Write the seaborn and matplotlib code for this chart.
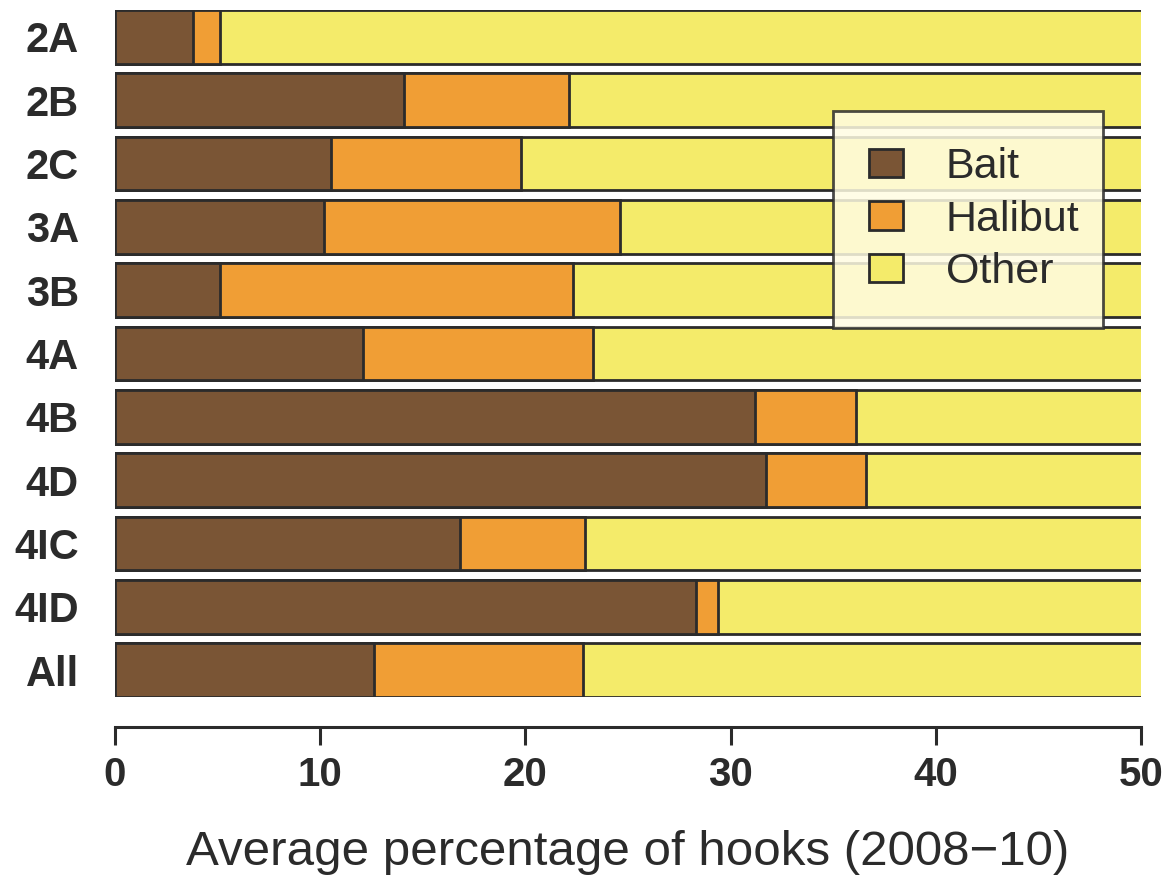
import numpy as np
import pandas as pd
import matplotlib
matplotlib.use('Agg')
import matplotlib.pyplot as plt
import seaborn as sns
from matplotlib.patches import Patch

sns.set_style('white')
plt.rcParams['font.family'] = ['Liberation Sans', 'DejaVu Sans']

# 数据
regions = ['2A', '2B', '2C', '3A', '3B', '4A', '4B', '4D', '4IC', '4ID', 'All']
bait = [3.8, 14.1, 10.5, 10.2, 5.1, 12.1, 31.2, 31.7, 16.8, 28.3, 12.6]
halibut = [1.3, 8.0, 9.3, 14.4, 17.2, 11.2, 4.9, 4.9, 6.1, 1.1, 10.2]
other = [100 - b - h for b, h in zip(bait, halibut)]

col_bait = '#7a5535'
col_halibut = '#f09e35'
col_other = '#f4eb6a'
edge = '#2b2b2b'

df = pd.DataFrame({'region': regions, 'bait': bait, 'halibut': halibut, 'other': other})
df['bh'] = df['bait'] + df['halibut']
df['total'] = df['bh'] + df['other']

fig = plt.figure(figsize=(11.74, 8.75), dpi=100)
ax = fig.add_axes([0.098, 0.2034, 0.874, 0.7852])

# 叠加条形图：先画总长，再覆盖
for col, c in [('total', col_other), ('bh', col_halibut), ('bait', col_bait)]:
    sns.barplot(data=df, x=col, y='region', orient='h', color=c, width=0.85,
                edgecolor=edge, linewidth=2, saturation=1, ax=ax)

ax.set_xlim(0, 50)
ax.set_ylim(10.425, -0.425)
ax.set_ylabel('')
ax.set_xlabel('Average percentage of hooks (2008\u221210)', fontsize=35.5, labelpad=26,
              color=edge)
ax.set_xticks(range(0, 51, 10))

for s in ['top', 'right', 'left']:
    ax.spines[s].set_visible(False)
ax.spines['bottom'].set_position(('outward', 21.6))
ax.spines['bottom'].set_bounds(0, 50)
ax.spines['bottom'].set_linewidth(2.2)
ax.spines['bottom'].set_color(edge)

ax.tick_params(axis='x', bottom=True, direction='out', length=13, width=2.2, color=edge,
               labelsize=29, pad=8, labelcolor=edge)
ax.tick_params(axis='y', left=False, length=0, labelsize=30, pad=26, labelcolor=edge)
for lab in ax.get_xticklabels() + ax.get_yticklabels():
    lab.set_fontweight('bold')

handles = [Patch(facecolor=col_bait, edgecolor=edge, linewidth=2, label='Bait'),
           Patch(facecolor=col_halibut, edgecolor=edge, linewidth=2, label='Halibut'),
           Patch(facecolor=col_other, edgecolor=edge, linewidth=2, label='Other')]
leg = ax.legend(handles=handles, loc='upper left', bbox_to_anchor=(0.700, 0.853, 0.263, 0.0),
                mode='expand', fontsize=31, frameon=True, fancybox=False,
                handlelength=0.77, handleheight=0.65, handletextpad=1.0,
                labelspacing=0.29, borderpad=0.84, borderaxespad=0)
frame = leg.get_frame()
frame.set_facecolor('#fffce2')
frame.set_alpha(0.85)
frame.set_edgecolor(edge)
frame.set_linewidth(2)
for t in leg.get_texts():
    t.set_color(edge)

fig.savefig('out.png', dpi=100)
